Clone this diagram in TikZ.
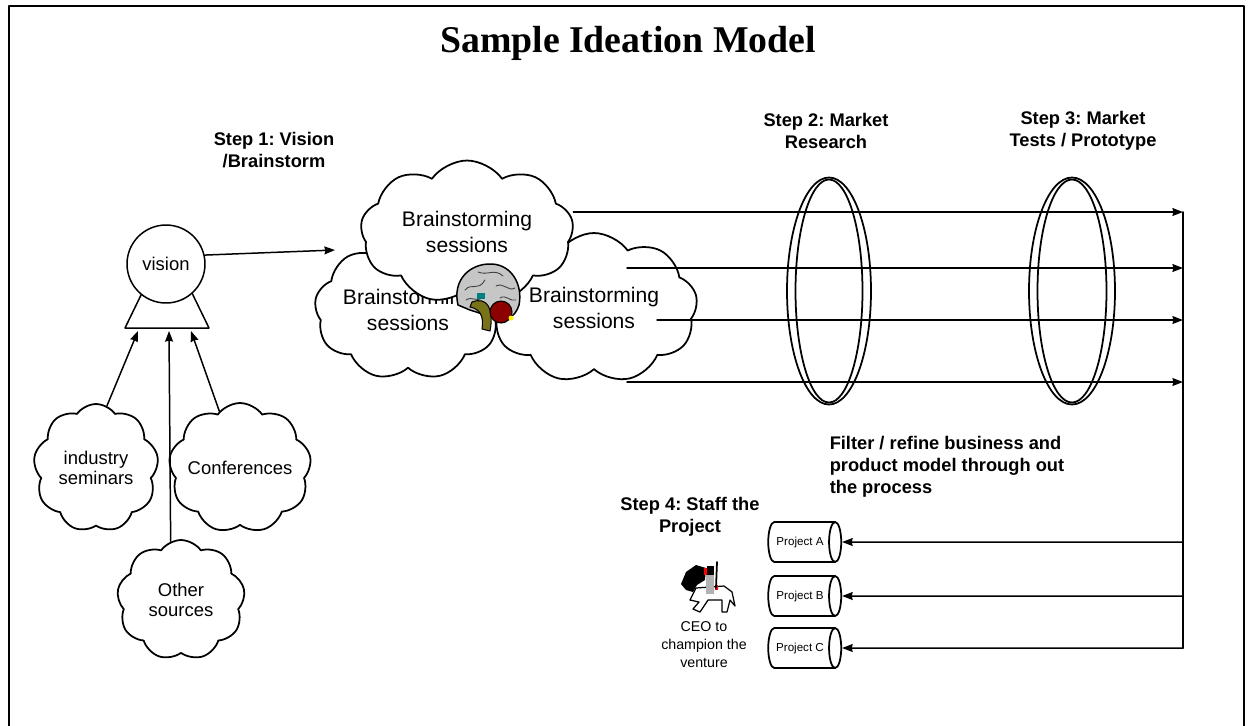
\documentclass[tikz,border=0pt]{standalone}
\usepackage{fontspec}
\setmainfont{Liberation Sans}
\newfontfamily\titlefont{Liberation Serif}
\usetikzlibrary{shapes.symbols,shapes.geometric,arrows.meta}
\frenchspacing

\begin{document}
\begin{tikzpicture}[x=0.02cm, y=-0.02cm, line width=0.85pt, line join=round, line cap=round, >={Stealth[length=6pt, width=4.5pt, inset=0.5pt]},
	bubble/.style={cloud, draw, fill=white, cloud puffs=9, cloud puff arc=110, cloud ignores aspect, inner sep=0pt, align=center, line width=1pt},
	bstext/.style={font=\fontsize{12}{14.7}\selectfont},
	srctext/.style={font=\fontsize{10.5}{11}\selectfont},
	steplabel/.style={align=center, inner sep=0pt, font=\fontsize{10.4}{12.5}\selectfont\bfseries},
	project/.style={cylinder, draw, fill=white, aspect=0.85, minimum height=1.46cm, minimum width=0.8cm, inner sep=1pt, line width=1pt, font=\fontsize{6.6}{8}\selectfont}]
	\useasboundingbox (0,0) rectangle (1248,725);
	% frame and title
	\draw[line width=1.2pt] (9,740) -- (9,6) -- (1244,6) -- (1244,740);
	\node[font=\titlefont\bfseries\fontsize{21.5}{26}\selectfont, inner sep=0pt, anchor=base] (title) at (628,52) {Sample Ideation Model};
	% step labels
	\node[steplabel] (step1) at (274,150) {Step 1: Vision\\/Brainstorm};
	\node[steplabel] (step2) at (826,131) {Step 2: Market\\Research};
	\node[steplabel] (step3) at (1083,131) {Step 3: Market\\Tests / Prototype};
	\node[steplabel] (step4) at (690,517) {Step 4: Staff the\\Project};
	\node[steplabel, align=left, anchor=west] (filter) at (829,467) {Filter / refine business and\\product model through out\\the process};
	% vision and its sources
	\draw (142,293) -- (125,328) -- (209,328) -- (192,293);
	\coordinate (t1) at (138,331);
	\coordinate (t2) at (169,331);
	\coordinate (t3) at (191,331);
	\node[circle, draw, fill=white, minimum size=1.56cm, inner sep=0pt, srctext] (vision) at (166,264) {vision};
	\node[bubble, srctext, minimum width=2.5cm, minimum height=2.56cm] (ind) at (96,468) {industry\\seminars};
	\node[bubble, srctext, minimum width=2.6cm, minimum height=2.6cm] (conf) at (240,468) {Conferences};
	\node[bubble, srctext, minimum width=2.56cm, minimum height=2.4cm] (other) at (181,600) {Other\\sources};
	\draw[->] (ind.80) -- (t1);
	\draw[->] (other.100) -- (t2);
	\draw[->] (conf.110) -- (t3);
	% brainstorming clouds
	\node[bubble, bstext, minimum width=3.74cm, minimum height=2.8cm] (bs2) at (408,310) {Brainstorming\\sessions};
	\node[bubble, bstext, minimum width=4.14cm, minimum height=3cm] (bs3) at (594,308) {Brainstorming\\sessions};
	\node[bubble, bstext, minimum width=4.26cm, minimum height=2.86cm] (bs1) at (467,232) {Brainstorming\\sessions};
	\coordinate (bsin) at (335,250);
	\draw[->] (vision.13) -- (bsin);
	% brain
	\draw[fill=gray!45] (458,305) .. controls (452,280) and (470,263) .. (492,264) .. controls (512,265) and (523,285) .. (519,305) .. controls (515,318) and (505,322) .. (495,318) -- (470,310) -- cycle;
	\draw[black!75, line width=0.5pt] (465,290) .. controls (472,282) and (478,292) .. (485,280) (478,272) .. controls (488,276) and (494,268) .. (503,276) (496,286) .. controls (504,282) and (508,292) .. (515,288) (500,298) .. controls (506,294) and (510,302) .. (516,300) (466,300) .. controls (472,296) and (476,302) .. (482,298);
	\draw[fill=olive!80!black, line width=0.6pt] (472,302) .. controls (488,296) and (494,310) .. (490,331) -- (482,329) .. controls (484,316) and (480,309) .. (470,307) -- cycle;
	\draw[fill=red!55!black, line width=0.6pt] (501,312) circle (11);
	\fill[teal] (477,293) rectangle (485,299);
	\fill[yellow] (511,318) circle (2.5);
	% lenses
	\draw[line width=1pt] (829,291) ellipse [x radius=42, y radius=113.5];
	\draw[line width=1pt] (829,291) ellipse [x radius=33.5, y radius=111.5];
	\draw[line width=1pt] (1072,291) ellipse [x radius=43, y radius=113.5];
	\draw[line width=1pt] (1072,291) ellipse [x radius=34.5, y radius=111.5];
	% flows to the filter line
	\coordinate (r1) at (1183,212);
	\coordinate (r2) at (1183,268);
	\coordinate (r3) at (1183,320);
	\coordinate (r4) at (1183,382);
	\coordinate (s2) at (627,268);
	\coordinate (s3) at (657,320);
	\coordinate (s4) at (627,382);
	\draw[->] (bs1.east |- r1) -- (r1);
	\draw[->] (s2) -- (r2);
	\draw[->] (s3) -- (r3);
	\draw[->] (s4) -- (r4);
	\coordinate (q1) at (1183,542);
	\coordinate (q2) at (1183,596);
	\coordinate (q3) at (1183,648);
	\draw (r1) -- (q3);
	% projects
	\node[project] (pa) at (800,542) {Project A};
	\node[project] (pb) at (800,596) {Project B};
	\node[project] (pc) at (800,648) {Project C};
	\draw[->] (q1) -- (pa);
	\draw[->] (q2) -- (pb);
	\draw[->] (q3) -- (pc);
	% knight
	\draw[fill=white, line width=0.7pt] (696,588) -- (724,586) -- (732,592) -- (735,606) -- (730,600) -- (727,612) -- (722,612) -- (722,600) -- (708,600) -- (700,612) -- (693,609) -- (699,602) -- (690,600) -- cycle;
	\fill (681,584) -- (686,572) -- (696,565) -- (706,568) -- (705,580) -- (697,585) -- (693,592) -- (686,590) -- cycle;
	\fill[gray!60] (706,575) rectangle (714,594);
	\fill (707,566) rectangle (714,575);
	\fill[red] (704,568) rectangle (707,575);
	\fill[red] (715,585) rectangle (718,590);
	\draw[line width=1pt] (717,562) -- (716,588);
	\node[align=center, inner sep=0pt, font=\fontsize{8.1}{10.2}\selectfont] (ceo) at (704,645) {CEO to\\champion the\\venture};
\end{tikzpicture}
\end{document}
